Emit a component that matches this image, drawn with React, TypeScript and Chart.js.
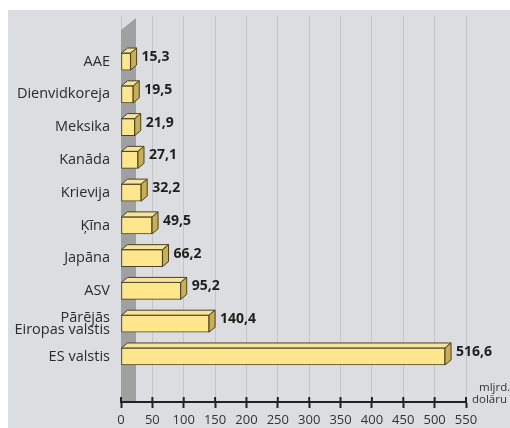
import React, { useEffect, useRef } from "react";
import { Chart, registerables } from "chart.js";

Chart.register(...registerables);

const categories: (string | string[])[] = [
  "AAE",
  "Dienvidkoreja",
  "Meksika",
  "Kanāda",
  "Krievija",
  "Ķīna",
  "Japāna",
  "ASV",
  ["Pārējās", "Eiropas valstis"],
  "ES valstis",
];
const values = [15.3, 19.5, 21.9, 27.1, 32.2, 49.5, 66.2, 95.2, 140.4, 516.6];
const valueLabels = ["15,3", "19,5", "21,9", "27,1", "32,2", "49,5", "66,2", "95,2", "140,4", "516,6"];
const xTicks = [0, 50, 100, 150, 200, 250, 300, 350, 400, 450, 500, 550];
const unitLines = ["mljrd.", "dolāru"];

const FONT = "'Open Sans', 'DejaVu Sans', sans-serif";
const DX = 6;
const DY = 5;
const Y_MIN = -1.39;
const Y_MAX = 10.39;

const box3d = {
  id: "box3d",
  beforeDatasetsDraw(chart: any) {
    const { ctx, chartArea, scales } = chart;
    const x0 = scales.x.getPixelForValue(0);
    const top = chartArea.top;
    const bottom = chartArea.bottom - 1;
    ctx.save();
    ctx.fillStyle = "#9fa0a2";
    ctx.beginPath();
    ctx.moveTo(x0, bottom);
    ctx.lineTo(x0, top + 14);
    ctx.lineTo(x0 + 15, top + 2);
    ctx.lineTo(x0 + 15, bottom);
    ctx.closePath();
    ctx.fill();
    ctx.restore();
  },
  afterDatasetsDraw(chart: any) {
    const { ctx, scales, chartArea } = chart;
    const meta = chart.getDatasetMeta(0);
    ctx.save();
    ctx.lineWidth = 1;
    ctx.strokeStyle = "#4a4126";
    ctx.lineJoin = "round";
    meta.data.forEach((bar: any, i: number) => {
      const { x, y, base, height } = bar.getProps(["x", "y", "base", "height"], true);
      const t = y - height / 2;
      const b = y + height / 2;
      ctx.fillStyle = "#f6e39c";
      ctx.beginPath();
      ctx.moveTo(base, t);
      ctx.lineTo(base + DX, t - DY);
      ctx.lineTo(x + DX, t - DY);
      ctx.lineTo(x, t);
      ctx.closePath();
      ctx.fill();
      ctx.stroke();
      ctx.fillStyle = "#c7ae58";
      ctx.beginPath();
      ctx.moveTo(x, t);
      ctx.lineTo(x + DX, t - DY);
      ctx.lineTo(x + DX, b - DY);
      ctx.lineTo(x, b);
      ctx.closePath();
      ctx.fill();
      ctx.stroke();
      ctx.fillStyle = "#1e1e1e";
      ctx.font = `bold 14px ${FONT}`;
      ctx.textAlign = "left";
      ctx.textBaseline = "middle";
      ctx.fillText(valueLabels[i], x + DX + 5, y - 4.5);
    });
    const xs = scales.x;
    ctx.strokeStyle = "#222";
    ctx.lineWidth = 2;
    xs.ticks.forEach((tk: any) => {
      const px = xs.getPixelForValue(tk.value);
      ctx.beginPath();
      ctx.moveTo(px, chartArea.bottom - 5);
      ctx.lineTo(px, chartArea.bottom);
      ctx.stroke();
    });
    ctx.fillStyle = "#333";
    ctx.font = `11.5px ${FONT}`;
    ctx.textAlign = "left";
    ctx.textBaseline = "middle";
    ctx.fillText(unitLines[0], chartArea.right + 13, chartArea.bottom - 14);
    ctx.fillText(unitLines[1], chartArea.right + 6, chartArea.bottom - 2);
    ctx.restore();
  },
};

export default function App() {
  const ref = useRef<HTMLCanvasElement>(null);
  useEffect(() => {
    if (!ref.current) return;
    const chart = new Chart(ref.current, {
      type: "bar",
      data: {
        datasets: [
          {
            data: values.map((v, i) => ({ x: v, y: i })) as any,
            backgroundColor: "#fde68b",
            borderColor: "#4a4126",
            borderWidth: 1,
            borderSkipped: false,
            barThickness: 17,
          },
        ],
      },
      options: {
        indexAxis: "y",
        animation: false,
        responsive: false,
        layout: { padding: { top: 6, right: 44, left: 0, bottom: 0 } },
        plugins: { legend: { display: false }, tooltip: { enabled: false } },
        scales: {
          x: {
            type: "linear",
            min: 0,
            max: 550,
            afterBuildTicks: (s: any) => {
              s.ticks = xTicks.map((v) => ({ value: v }));
              s.min = 0;
              s.max = 550;
            },
            afterFit: (s: any) => {
              s.height = 26;
              s.paddingLeft = 0;
              s.paddingRight = 0;
            },
            grid: {
              color: "#c4c5c8",
              lineWidth: 1,
              drawTicks: true,
              tickLength: 6,
              tickColor: "#222",
              tickWidth: 2,
            },
            border: { display: true, color: "#222", width: 2 },
            ticks: {
              color: "#333",
              font: { family: FONT, size: 13 },
              padding: 4,
              maxRotation: 0,
              autoSkip: false,
            },
          },
          y: {
            type: "linear",
            reverse: true,
            offset: false,
            bounds: "data",
            min: Y_MIN,
            max: Y_MAX,
            afterBuildTicks: (s: any) => {
              s.ticks = categories.map((_, i) => ({ value: i }));
              s.min = Y_MIN;
              s.max = Y_MAX;
            },
            afterFit: (s: any) => {
              s.width = 113;
              s.paddingTop = 0;
              s.paddingBottom = 0;
            },
            grid: { display: false, drawTicks: false, offset: false },
            border: { display: false },
            ticks: {
              color: "#2b2b2b",
              font: { family: FONT, size: 14.5, lineHeight: 0.85 },
              padding: 11,
              autoSkip: false,
              callback: (v: any) => categories[v as number] ?? "",
            },
          },
        },
      },
      plugins: [box3d],
    });
    return () => chart.destroy();
  }, []);
  return (
    <div
      style={{
        position: "absolute",
        left: 8,
        top: 10,
        width: 502,
        height: 418,
        background: "#dcdde0",
      }}
    >
      <canvas ref={ref} width={502} height={418} />
    </div>
  );
}
